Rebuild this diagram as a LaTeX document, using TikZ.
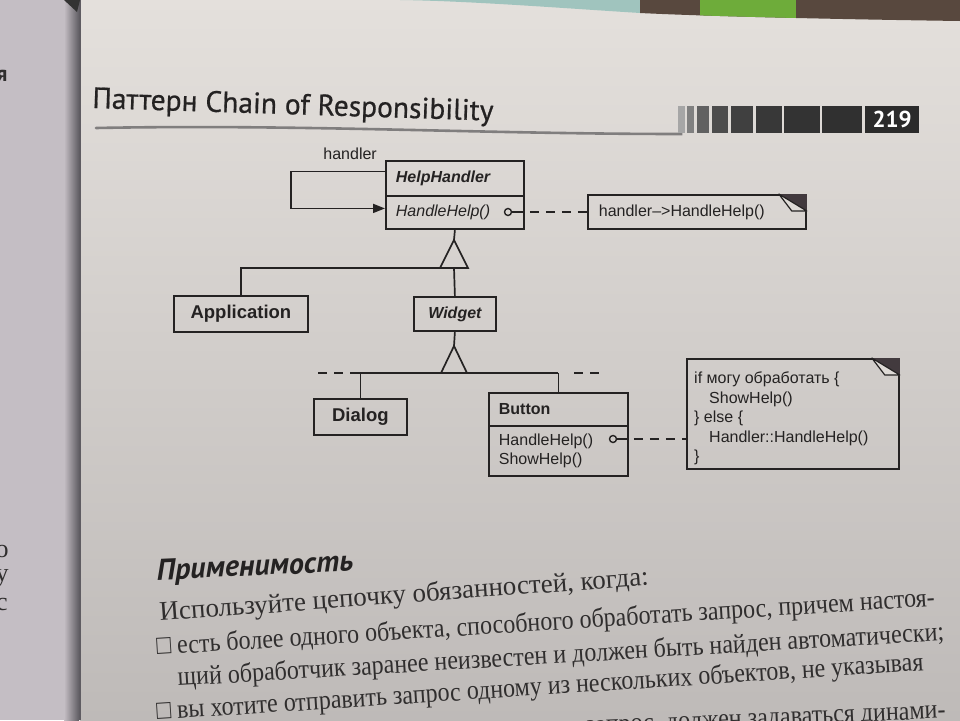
\documentclass[tikz,border=0pt]{standalone}
\usepackage{fontspec}
\setmainfont{Liberation Sans}
\newfontfamily\headfont[FakeBold=0.6]{PT Sans}
\newfontfamily\headbold{PT Sans}
\newfontfamily\bodyfont[FakeStretch=0.89]{Liberation Serif}
\newfontfamily\bodywide{Liberation Serif}
\usetikzlibrary{arrows.meta}
\definecolor{ink}{RGB}{36,34,34}
\definecolor{bodyink}{RGB}{48,46,46}
\definecolor{pagetop}{RGB}{228,224,220}
\definecolor{pagemid}{RGB}{213,209,205}
\definecolor{pagebot}{RGB}{190,186,184}
\definecolor{leftpage}{RGB}{196,190,196}
\definecolor{gutter}{RGB}{95,92,98}
\definecolor{flapcol}{RGB}{222,218,214}
\definecolor{notedark}{RGB}{66,58,62}
\definecolor{tealbg}{RGB}{160,196,190}
\definecolor{leafbg}{RGB}{110,172,58}
\definecolor{woodbg}{RGB}{88,72,62}
\definecolor{swoosh}{RGB}{128,126,126}
\tikzset{
  conn/.style={draw=ink, line width=1.7pt},
  dashconn/.style={draw=ink, line width=1.7pt, dash pattern=on 9pt off 7pt},
  umlbox/.style={draw=ink, line width=1.8pt, inner ysep=0pt, text=ink, anchor=north west,
    font=\fontsize{16}{19.5}\selectfont},
  bigname/.style={font=\fontsize{18.5}{20}\selectfont},
  umltext/.style={text=ink, font=\fontsize{16}{19.5}\selectfont},
  port/.style={circle, draw=ink, line width=1.4pt, inner sep=0pt, minimum size=7pt},
  gentri/.style={draw=ink, line width=1.7pt, line join=miter},
  bodyline/.style={anchor=base west, inner sep=0pt, text=bodyink,
    font=\bodyfont\fontsize{27}{31}\selectfont},
}
\newcommand\notefold[1]{%
  \fill[notedark] ([xshift=-28pt]#1.north east) -- (#1.north east) -- ([yshift=-17pt]#1.north east) -- cycle;
  \filldraw[fill=flapcol, draw=ink, line width=1.2pt, line join=round]
    ([xshift=-28pt]#1.north east) -- ([yshift=-17pt]#1.north east) -- ([xshift=-15pt,yshift=-17pt]#1.north east) -- cycle;}
\begin{document}
\begin{tikzpicture}[x=1pt,y=-1pt]
\useasboundingbox (0,0) rectangle (960,720);
\clip (0,0) rectangle (960,720);
% ---- background: photographed book pages
\shade[top color=pagetop, middle color=pagemid, bottom color=pagebot] (80,0) rectangle (960,720);
\fill[leftpage] (0,0) rectangle (80,720);
\shade[left color=leftpage, right color=gutter] (64,0) rectangle (79,720);
\draw[gutter, line width=1.5pt] (80,0) -- (80,720);
\begin{scope}
  \clip (400,0) -- (960,0) -- (960,21) .. controls (820,19) and (700,16) .. (640,13)
        .. controls (560,8) and (470,1) .. (400,0) -- cycle;
  \fill[tealbg] (400,0) rectangle (640,30);
  \fill[woodbg] (640,0) rectangle (960,30);
  \fill[leafbg] (700,0) rectangle (796,30);
\end{scope}
\fill[black!80] (64,0) -- (80,0) -- (77,12) -- cycle;
% left page fragments
\node[text=bodyink, font=\headbold\bfseries\fontsize{22}{22}\selectfont] (lp0) at (2,76) {я};
\node[text=bodyink, font=\bodywide\fontsize{26}{26}\selectfont] (lp1) at (2,551) {о};
\node[text=bodyink, font=\bodywide\fontsize{26}{26}\selectfont] (lp2) at (2,578) {у};
\node[text=bodyink, font=\bodywide\fontsize{26}{26}\selectfont] (lp3) at (2,604) {с};

% ---- running head
\node[anchor=base west, inner sep=0pt, rotate=-1.8, text=ink,
      font=\headfont\fontsize{29.5}{32}\selectfont] (title) at (92,108) {Паттерн Chain of Responsibility};
\draw[swoosh, line width=2.6pt, line cap=round] (96,128) .. controls (300,124) and (480,134) .. (681,134) -- (681,120);
\foreach \xa/\xb/\g in {678/685/35, 687/694/50, 697/709/62, 712/728/70, 731/753/75, 756/782/78, 784/820/80, 822/862/81}
  {\fill[black!\g] (\xa,106) rectangle (\xb,133);}
\node[fill=black!83, anchor=north west, minimum width=54pt, minimum height=27pt, inner sep=0pt,
      text=white, font=\headbold\bfseries\fontsize{23}{23}\selectfont] (pnum) at (865,106) {219};

% ---- UML diagram
\node[umlbox, minimum width=138pt, minimum height=35pt, text width=118pt, inner xsep=10pt, align=left]
  (hhn) at (385,160) {\bfseries\itshape HelpHandler};
\node[umlbox, minimum width=138pt, minimum height=33pt, text width=118pt, inner xsep=9pt, align=left]
  (hhm) at (385,195) {\itshape HandleHelp()};
\node[umltext, anchor=base east, inner sep=0pt] (hlabel) at (377,159) {handler};
\draw[conn, -{Triangle[length=12pt,width=9pt]}] ([yshift=7pt]hhn.west) -- ++(-94,0) |- ([yshift=4pt]hhm.west);
\node[port] (c1) at (508,212) {};
\node[umlbox, minimum width=218pt, minimum height=34pt, text width=196pt, inner xsep=11pt, align=left]
  (n1) at (587,194) {handler–>HandleHelp()};
\notefold{n1}
\draw[conn] (c1.east) -- (c1 -| hhm.east);
\draw[dashconn] ([xshift=5pt]c1 -| hhm.east) -- (c1 -| n1.west);

% generalisation HelpHandler <- Application, Widget
\coordinate (t1) at (454,240);
\coordinate (t1b) at (454,268);
\draw[conn] (hhm.south) -- (t1);
\draw[gentri] (t1) -- ++(-14,28) -- ++(28,0) -- cycle;
\node[umlbox, bigname, minimum width=134pt, minimum height=36pt, inner xsep=0pt] (app) at (173,295) {\bfseries Application};
\node[umlbox, minimum width=82pt, minimum height=34pt, inner xsep=0pt] (wid) at (413,296) {\bfseries\itshape Widget};
\draw[conn] (app.north) |- (t1b);
\draw[conn] (t1b) -- (wid.north);

% generalisation Widget <- Dialog, Button
\coordinate (t2) at (454,346);
\coordinate (t2b) at (454,373);
\draw[conn] (wid.south) -- (t2);
\draw[gentri] (t2) -- ++(-13,27) -- ++(26,0) -- cycle;
\node[umlbox, bigname, minimum width=93pt, minimum height=36pt, inner xsep=0pt] (dia) at (313,398) {\bfseries Dialog};
\node[umlbox, minimum width=139pt, minimum height=33pt, text width=119pt, inner xsep=10pt, align=left]
  (btn) at (488,392) {\bfseries Button};
\node[umlbox, minimum width=139pt, minimum height=50pt, text width=119pt, inner xsep=10pt, align=left]
  (btm) at (488,425) {HandleHelp()\\ShowHelp()};
\coordinate (busL) at (350,373);
\coordinate (busR) at (btn.north |- t2b);
\draw[conn] (busL) -- (busR);
\draw[conn] (busL -| dia.north) -- (dia.north);
\draw[conn] (busR) -- (btn.north);
\draw[dashconn] ([xshift=-32pt]busL) -- ([xshift=-7pt]busL);
\draw[dashconn] ([xshift=16pt]busR) -- ([xshift=41pt]busR);

\node[port] (c2) at (613,439) {};
\node[umlbox, minimum width=212pt, minimum height=110pt, inner xsep=0pt] (n2) at (686,358) {};
\notefold{n2}
\node[umltext, anchor=north west, align=left, inner sep=0pt] (n2t) at (694,372)
  {if могу обработать \{\\\hspace*{15pt}ShowHelp()\\\} else \{\\\hspace*{15pt}Handler::HandleHelp()\\\}};
\draw[conn] (c2.east) -- (c2 -| btm.east);
\draw[dashconn] ([xshift=5pt]c2 -| btm.east) -- (c2 -| n2.west);

% ---- body text
\node[anchor=base west, inner sep=0pt, rotate=2.6, text=ink,
      font=\headbold\bfseries\itshape\fontsize{30}{32}\selectfont] (h2) at (157,580) {Применимость};
\node[bodyline, font=\bodywide\fontsize{27}{31}\selectfont, rotate=4.2] (b1) at (160,621) {Используйте цепочку обязанностей, когда:};
\node[bodyline, rotate=3.6] (b2) at (157,655) {□ есть более одного объекта, способного обработать запрос, причем настоя-};
\node[bodyline, rotate=3.4] (b3) at (178,686) {щий обработчик заранее неизвестен и должен быть найден автоматически;};
\node[bodyline, rotate=3.7] (b4) at (157,720) {□ вы хотите отправить запрос одному из нескольких объектов, не указывая};
\node[bodyline, rotate=3.6] (b5) at (178,752) {явно, какому именно;};
\node[bodyline, anchor=base east, rotate=2.5] (b6) at (946,718) {запрос, должен задаваться динами-};
\end{tikzpicture}
\end{document}
